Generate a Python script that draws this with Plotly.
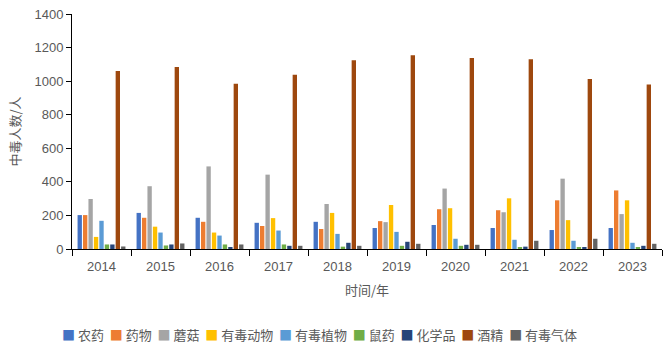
import plotly.graph_objects as go

# 中毒人数（人），按年份与中毒类别
years = ["2014", "2015", "2016", "2017", "2018", "2019", "2020", "2021", "2022", "2023"]

pesticide = [202, 215, 186, 156, 162, 125, 143, 125, 113, 125]      # 农药
medicine = [202, 186, 162, 137, 119, 166, 237, 231, 290, 349]       # 药物
mushroom = [298, 374, 492, 443, 268, 160, 360, 219, 419, 208]       # 蘑菇
toxic_animal = [72, 133, 98, 184, 215, 262, 243, 302, 172, 290]     # 有毒动物
toxic_plant = [168, 98, 80, 110, 90, 102, 61, 55, 49, 37]           # 有毒植物
rodenticide = [27, 21, 27, 27, 14, 19, 19, 8, 8, 8]                 # 鼠药
chemical = [27, 27, 9, 19, 37, 43, 25, 14, 8, 19]                   # 化学品
alcohol = [1060, 1085, 984, 1038, 1125, 1154, 1138, 1131, 1013, 980]  # 酒精
toxic_gas = [15, 33, 27, 19, 19, 31, 25, 49, 61, 31]                # 有毒气体

series = [
    ("农药", pesticide, "#4472C4"),
    ("药物", medicine, "#ED7D31"),
    ("蘑菇", mushroom, "#A5A5A5"),
    ("有毒动物", toxic_animal, "#FFC000"),
    ("有毒植物", toxic_plant, "#5B9BD5"),
    ("鼠药", rodenticide, "#70AD47"),
    ("化学品", chemical, "#264478"),
    ("酒精", alcohol, "#9E480E"),
    ("有毒气体", toxic_gas, "#636363"),
]

FONT = "Noto Sans CJK SC"
NUM_FONT = "Liberation Sans, Noto Sans CJK SC"
GREY = "#595959"

fig = go.Figure()
for name, vals, color in series:
    fig.add_trace(go.Bar(x=years, y=vals, name=name, marker_color=color,
                         marker_line_width=0, showlegend=False))

# single-row legend below the axis title: coloured square + series name
legend_parts = [
    f"<span style='color:{color}'>■</span> {name}" for name, _, color in series
]
fig.add_annotation(
    text="  ".join(legend_parts),
    xref="paper", yref="paper", x=0.42, y=-0.363,
    xanchor="center", yanchor="middle", showarrow=False,
    font=dict(family=FONT, size=13, color=GREY),
)

fig.update_layout(
    width=669, height=348,
    margin=dict(l=72, r=7, t=12, b=99),
    paper_bgcolor="white", plot_bgcolor="white",
    barmode="group", bargap=0.17, bargroupgap=0.2,
    font=dict(family=FONT, color=GREY, size=12),
    showlegend=False,
)

fig.update_xaxes(
    type="category", tickson="boundaries",
    showline=True, linecolor="black", linewidth=1,
    ticks="outside", ticklen=6, tickcolor="black",
    ticklabelstandoff=5,
    tickfont=dict(family=NUM_FONT, size=13, color=GREY),
    title=dict(text="时间/年", font=dict(size=13, color=GREY), standoff=13),
    showgrid=False,
)
fig.update_yaxes(
    range=[0, 1400], dtick=200,
    showline=True, linecolor="black", linewidth=1,
    ticks="outside", ticklen=5, tickcolor="black",
    tickfont=dict(family=NUM_FONT, size=13, color=GREY),
    title=dict(text="中毒人数/人", font=dict(size=13, color=GREY), standoff=10),
    showgrid=False, zeroline=False,
)

fig.write_html("out.html")
